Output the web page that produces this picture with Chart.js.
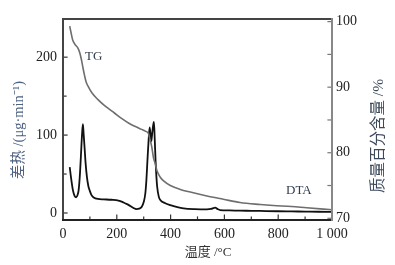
<!DOCTYPE html>
<html>
<head>
<meta charset="utf-8">
<script src="https://cdn.jsdelivr.net/npm/chart.js@4"></script>
<style>
  html, body { margin: 0; padding: 0; background: #fff; }
  #c { display: block; }
</style>
</head>
<body>
<canvas id="c" width="395" height="265"></canvas>
<script>
// ---------------- Data -------------------------------------------------
const dtaTemp  = [25, 30, 37, 43, 49, 54, 58, 63, 67, 71, 74, 77, 80, 84, 89, 94, 99, 106, 114, 130, 151, 180, 206, 225, 240, 250, 262, 272, 283, 293, 300, 306, 310, 314, 318, 322, 325, 328, 331, 335, 338, 341, 344, 347, 350, 356, 361, 380, 399, 425, 448, 490, 535, 550, 566, 575, 584, 620, 658, 700, 733, 800, 850, 900, 950, 1000] ;
const dtaValue = [59, 45, 29, 22, 20, 23, 29, 50, 76, 102, 114, 100, 85, 64, 46, 35, 29, 23, 20, 18, 17.5, 17, 16, 13.5, 11, 9, 6.5, 5, 5.5, 8, 14, 25, 42, 68, 92, 110, 102, 92, 100, 112, 117, 95, 68, 48, 34, 21, 17, 12.5, 10, 7.5, 6, 5, 4.7, 5.2, 6.8, 5, 3.8, 3.3, 3, 2.8, 2.6, 2.2, 2, 1.8, 1.6, 1.5] ;

const tgTemp   = [25, 30, 36, 45, 55, 62, 68, 74, 80, 86, 95, 108, 130, 157, 190, 219, 245, 269, 290, 306, 318, 324, 330, 336, 343, 349, 361, 374, 399, 436, 473, 535, 596, 658, 733, 782, 850, 906, 1000] ;
const tgValue  = [99.3, 98.3, 97.2, 96.5, 96.0, 95.3, 94.3, 93.0, 91.8, 90.8, 90.0, 89.1, 88.1, 87.1, 86.1, 85.2, 84.5, 84.0, 83.6, 83.3, 82.9, 81.9, 80.9, 79.3, 78.3, 77.3, 76.3, 75.7, 75.0, 74.4, 74.0, 73.4, 72.9, 72.4, 72.1, 71.95, 71.8, 71.6, 71.3] ;

const xTicks     = [0, 100, 200, 300, 400, 500, 600, 700, 800, 900, 1000] ;
const leftTicks  = [0, 50, 100, 150, 200] ;
const rightTicks = [70, 75, 80, 85, 90, 95, 100] ;

// ---------------- Helpers ----------------------------------------------
const serif = "'Liberation Serif', 'Noto Sans CJK SC', serif" ;

function zip( xs, ys ) {
    return xs.map( ( x, i ) => ( { x: x, y: ys[i] } ) ) ;
}

function xLabel( v ) {
    if( v % 200 !== 0 ) return '' ;
    return v >= 1000 ? '1 000' : String( v ) ;
}

// frame, inward ticks, titles and curve labels
const decorations = {
    id: 'decorations',
    afterDraw( chart ) {
        const ctx = chart.ctx ;
        const a = chart.chartArea ;
        const sx = chart.scales.x, sl = chart.scales.y, sr = chart.scales.y1 ;

        ctx.save() ;
        ctx.lineCap = 'square' ;

        // inward ticks
        ctx.lineWidth = 1.2 ;
        ctx.strokeStyle = '#333' ;
        leftTicks.forEach( v => {
            const y = sl.getPixelForValue( v ) ;
            const len = v % 100 === 0 ? 4 : 3 ;
            ctx.beginPath() ; ctx.moveTo( a.left, y ) ; ctx.lineTo( a.left + len, y ) ; ctx.stroke() ;
        } ) ;
        xTicks.forEach( v => {
            const x = sx.getPixelForValue( v ) ;
            const len = v % 200 === 0 ? 5 : 3 ;
            ctx.beginPath() ; ctx.moveTo( x, a.bottom ) ; ctx.lineTo( x, a.bottom - len ) ; ctx.stroke() ;
        } ) ;
        ctx.strokeStyle = '#777' ;
        rightTicks.forEach( v => {
            const y = sr.getPixelForValue( v ) ;
            ctx.beginPath() ; ctx.moveTo( a.right, y ) ; ctx.lineTo( a.right - 4, y ) ; ctx.stroke() ;
        } ) ;

        // frame
        ctx.lineWidth = 2 ;
        ctx.strokeStyle = '#444' ;
        ctx.beginPath() ; ctx.moveTo( a.left, a.top ) ; ctx.lineTo( a.right, a.top ) ; ctx.stroke() ;
        ctx.beginPath() ; ctx.moveTo( a.left, a.top ) ; ctx.lineTo( a.left, a.bottom ) ; ctx.stroke() ;
        ctx.strokeStyle = '#222' ;
        ctx.beginPath() ; ctx.moveTo( a.left, a.bottom ) ; ctx.lineTo( a.right, a.bottom ) ; ctx.stroke() ;
        ctx.strokeStyle = '#888' ;
        ctx.beginPath() ; ctx.moveTo( a.right, a.top ) ; ctx.lineTo( a.right, a.bottom ) ; ctx.stroke() ;

        // axis titles
        ctx.textAlign = 'center' ;
        ctx.textBaseline = 'middle' ;

        ctx.font = '13px ' + serif ;
        ctx.fillStyle = '#333' ;
        ctx.fillText( '温度 /°C', 208, 253 ) ;

        ctx.save() ;
        ctx.translate( 19, 130 ) ;
        ctx.rotate( -Math.PI / 2 ) ;
        ctx.font = '14.5px ' + serif ;
        ctx.fillStyle = '#4f6282' ;
        ctx.fillText( '差热 /(μg·min⁻¹)', 0, 0 ) ;
        ctx.restore() ;

        ctx.save() ;
        ctx.translate( 379, 136 ) ;
        ctx.rotate( -Math.PI / 2 ) ;
        ctx.font = '15.5px ' + serif ;
        ctx.fillStyle = '#3d4a5c' ;
        ctx.fillText( '质量百分含量 /%', 0, 0 ) ;
        ctx.restore() ;

        // curve labels
        ctx.fillStyle = '#2f3a4f' ;
        ctx.font = '13px ' + serif ;
        ctx.fillText( 'TG', sx.getPixelForValue( 114 ), sr.getPixelForValue( 94.6 ) ) ;
        ctx.fillText( 'DTA', sx.getPixelForValue( 877 ), sr.getPixelForValue( 74.2 ) ) ;

        ctx.restore() ;
    }
} ;

// ---------------- Chart ------------------------------------------------
const ctx = document.getElementById( 'c' ).getContext( '2d' ) ;

const chart = new Chart( ctx, {
    type: 'line',
    data: {
        datasets: [
            {
                label: 'TG',
                data: zip( tgTemp, tgValue ),
                yAxisID: 'y1',
                borderColor: '#6e6e6e',
                borderWidth: 1.6,
                pointRadius: 0,
                cubicInterpolationMode: 'monotone',
                fill: false
            },
            {
                label: 'DTA',
                data: zip( dtaTemp, dtaValue ),
                yAxisID: 'y',
                borderColor: '#111',
                borderWidth: 1.8,
                pointRadius: 0,
                cubicInterpolationMode: 'monotone',
                fill: false
            }
        ]
    },
    options: {
        responsive: false,
        animation: false,
        devicePixelRatio: 1,
        layout: { padding: { top: 19, left: 0, right: 0, bottom: 0 } },
        plugins: {
            legend: { display: false },
            tooltip: { enabled: false }
        },
        scales: {
            x: {
                type: 'linear',
                min: 0,
                max: 1000,
                afterFit: s => { s.height = 45 ; },
                afterBuildTicks: s => { s.ticks = xTicks.map( v => ( { value: v } ) ) ; },
                grid: { display: false, drawTicks: false },
                border: { display: false },
                ticks: {
                    autoSkip: false,
                    maxRotation: 0,
                    padding: 6,
                    color: '#222',
                    font: { family: serif, size: 14 },
                    callback: v => xLabel( v )
                }
            },
            y: {
                position: 'left',
                min: -9,
                max: 249,
                afterFit: s => { s.width = 63 ; },
                afterBuildTicks: s => { s.ticks = leftTicks.map( v => ( { value: v } ) ) ; },
                grid: { display: false, drawTicks: false },
                border: { display: false },
                ticks: {
                    autoSkip: false,
                    padding: 6,
                    color: '#222',
                    font: { family: serif, size: 14 },
                    callback: v => ( v % 100 === 0 ? String( v ) : '' )
                }
            },
            y1: {
                position: 'right',
                min: 69.74,
                max: 100.4,
                afterFit: s => { s.width = 63 ; },
                afterBuildTicks: s => { s.ticks = rightTicks.map( v => ( { value: v } ) ) ; },
                grid: { display: false, drawTicks: false },
                border: { display: false },
                ticks: {
                    autoSkip: false,
                    padding: 4,
                    color: '#222',
                    font: { family: serif, size: 14 },
                    callback: v => ( v % 10 === 0 ? String( v ) : '' )
                }
            }
        }
    },
    plugins: [ decorations ]
} ) ;
</script>
</body>
</html>
